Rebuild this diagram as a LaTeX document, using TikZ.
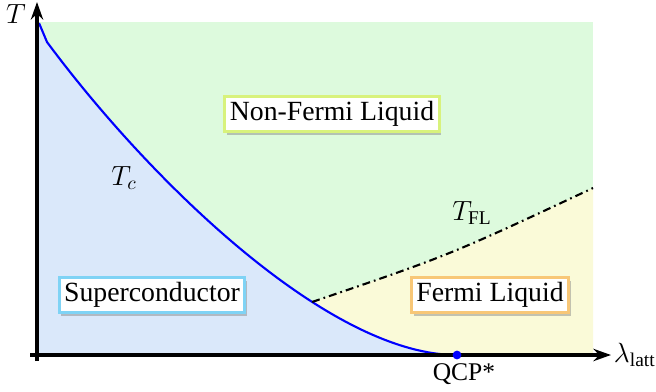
\RequirePackage{fix-cm}
\documentclass[tikz,border=0pt]{standalone}
\usepackage{amsmath}
\usepackage{fontspec}
\setmainfont{Liberation Serif}
\usetikzlibrary{arrows.meta, positioning, shadows}

\definecolor{nflbg}{HTML}{DDFADD}
\definecolor{scbg}{HTML}{DAE8FA}
\definecolor{flbg}{HTML}{FAFAD8}
\definecolor{nflline}{HTML}{D8F27C}
\definecolor{scline}{HTML}{7FD3F5}
\definecolor{flline}{HTML}{F8C777}

\begin{document}
\begin{tikzpicture}[x=0.02cm, y=-0.02cm, >={Stealth[length=10pt, width=7pt]},
		phase/.style={rectangle, draw, fill=white, line width=1.7pt, inner xsep=2.8pt, inner ysep=2pt, minimum height=0.7cm, font=\fontsize{15.8}{18}\selectfont, drop shadow={shadow xshift=1.2pt, shadow yshift=-1.8pt, opacity=0.45}},
		lbl/.style={font=\fontsize{15.8}{18}\selectfont},
		axis/.style={line width=2pt},
		tc/.style={blue, line width=1.2pt},
		tfl/.style={line width=1.2pt, dash pattern=on 4.5pt off 2.3pt on 1pt off 2.3pt}]
		
		\useasboundingbox (0,0) rectangle (656,392);
		
		% Pontos
		\coordinate (o) at (37,355);
		\coordinate (top) at (39,23);
		\coordinate (kink) at (47,42);
		\coordinate (qcp) at (457,355);
		\coordinate (fl1) at (593,188);
		\coordinate (xend) at (611,355);
		\coordinate (yend) at (37,2);
		\path (kink) .. controls (147,177) and (327,355) .. coordinate[pos=0.66] (fl0) (qcp);
		
		% Fases
		\fill[nflbg] (37,22) rectangle (593,355);
		\fill[flbg] (fl0) .. controls (450,255) .. (fl1) -- (593,355) -- (300,355) -- cycle;
		\fill[scbg] (37,23) -- (top) -- (kink) .. controls (147,177) and (327,355) .. (qcp) -- (o) -- cycle;
		
		% Curvas
		\draw[tc] (top) -- (kink) .. controls (147,177) and (327,355) .. (qcp);
		\draw[tfl] (fl0) .. controls (450,255) .. (fl1);
		
		% Eixos
		\draw[axis, ->] (30,355) -- (xend);
		\draw[axis, ->] (37,361) -- (yend);
		\node[lbl, right=1pt of xend, inner sep=0.5pt] (xlab) {$\lambda_{\mathrm{latt}}$};
		\node[lbl] (ylab) at (16,14) {$T$};
		
		% QCP
		\fill[blue] (qcp) circle (2.5pt);
		\node[font=\fontsize{14.5}{16}\selectfont] (qcplab) at (464,374) {QCP*};
		
		% Rótulos
		\node[lbl] (tclab) at (124,178) {$T_c$};
		\node[lbl] (tfllab) at (472,213) {$T_{\text{FL}}$};
		\node[phase, draw=nflline] (nfl) at (332,114) {Non-Fermi Liquid};
		\node[phase, draw=scline] (sc) at (152,295) {Superconductor};
		\node[phase, draw=flline] (fl) at (490,295) {Fermi Liquid};
		
	\end{tikzpicture}
\end{document}
